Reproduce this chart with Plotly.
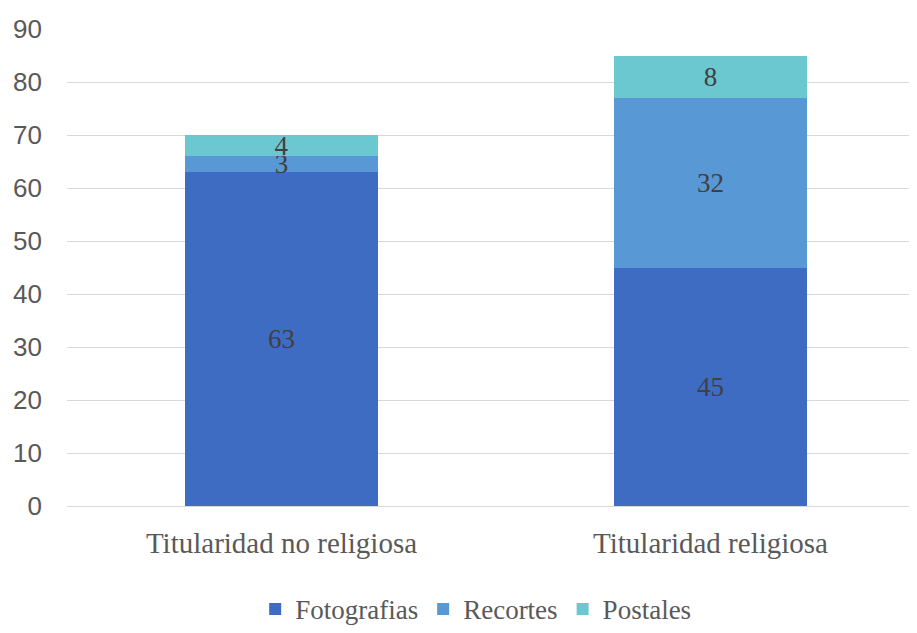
import plotly.graph_objects as go

categories = ["Titularidad no religiosa", "Titularidad religiosa"]
series_names = ["Fotografias", "Recortes", "Postales"]
fotografias = [63, 45]
recortes = [3, 32]
postales = [4, 8]
y_ticks = [0, 10, 20, 30, 40, 50, 60, 70, 80, 90]

colors = ["#3F6CC3", "#5898D5", "#6CC8D0"]
serif = "Liberation Serif, Times New Roman, serif"

fig = go.Figure()
for name, vals, col in zip(series_names, [fotografias, recortes, postales], colors):
    fig.add_trace(go.Bar(
        x=categories, y=vals, name=name, marker_color=col,
        marker_line_width=0,
        text=[str(v) for v in vals], textposition="inside",
        insidetextanchor="middle", constraintext="none", textangle=0,
        textfont=dict(family=serif, size=27, color="#404040"),
    ))

fig.update_layout(
    barmode="stack",
    bargap=0.55,
    width=917, height=633,
    margin=dict(l=59, r=0, t=21, b=135),
    plot_bgcolor="white", paper_bgcolor="white",
    showlegend=True,
    legend=dict(orientation="h", xref="container", yref="container",
                x=0.51, xanchor="center", y=0.05, yanchor="middle",
                font=dict(family=serif, size=27, color="#595959"),
                itemwidth=30, traceorder="normal"),
    xaxis=dict(tickfont=dict(family=serif, size=29, color="#595959"),
               showline=False, ticks="", ticklabelstandoff=17),
    yaxis=dict(range=[0, 90], tickvals=y_ticks, showgrid=True,
               gridcolor="#D9D9D9", gridwidth=1.3, zeroline=True,
               zerolinecolor="#D9D9D9", zerolinewidth=1.3,
               tickfont=dict(family="Liberation Sans Narrow, Liberation Sans, Arial, sans-serif", size=26, color="#595959"),
               ticklabelstandoff=24),
)

fig.write_html("out.html")
